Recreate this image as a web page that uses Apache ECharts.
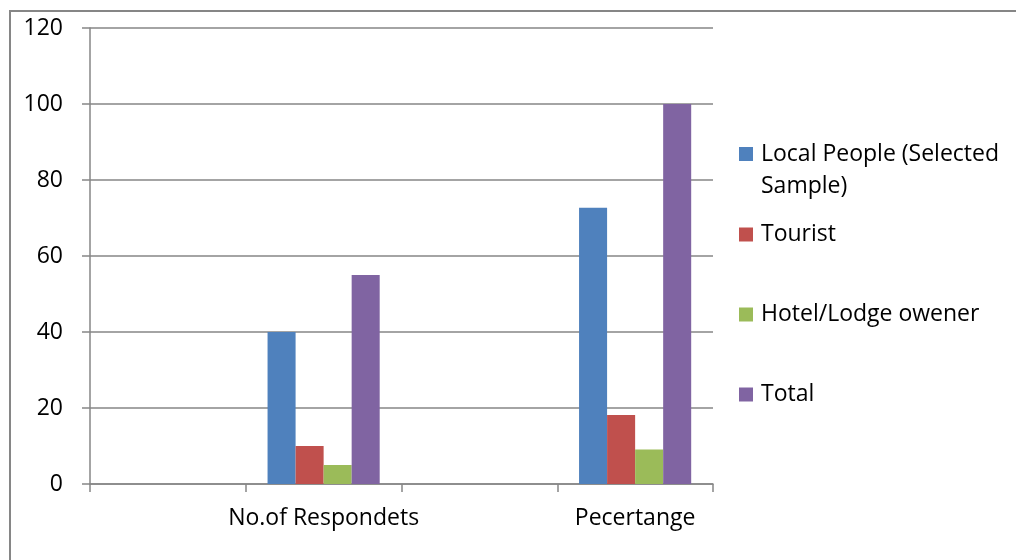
<!DOCTYPE html>
<html>
<head>
<meta charset="utf-8">
<script src="https://cdn.jsdelivr.net/npm/echarts@6/dist/echarts.min.js"></script>
<style>
  html, body { margin: 0; padding: 0; background: #fff; }
  #chart { width: 1016px; height: 560px; }
</style>
</head>
<body>
<div id="chart"></div>
<script>
// Categories (blank slots keep the Excel-style spacing between groups)
const categories = ['', 'No.of Respondets', '', 'Pecertange'];
const seriesNames = ['Local People (Selected Sample)', 'Tourist', 'Hotel/Lodge owener', 'Total'];
const localPeople = [null, 40, null, 72.73];
const tourist     = [null, 10, null, 18.18];
const hotelOwner  = [null, 5,  null, 9.09];
const total       = [null, 55, null, 100];
const yTicks = { min: 0, max: 120, interval: 20 };

const colors = ['#4F81BD', '#C0504D', '#9BBB59', '#8064A2'];
const values = [localPeople, tourist, hotelOwner, total];
const FONT = 'Open Sans';
const FS = 23;
const GRAY = '#868686';

// One legend per entry so the wrapped first label keeps its icon on line one
// (a leading blank line centres "Local People" on the icon).
const legendTops = [106, 223, 303, 383];
const legends = seriesNames.map((name, i) => {
  const wrapped = i === 0;
  const lh = wrapped ? 32 : 14;
  return {
    data: [name],
    orient: 'vertical',
    left: 739,
    top: legendTops[i],
    padding: 0,
    icon: 'rect',
    itemWidth: 14,
    itemHeight: 14,
    itemGap: 0,
    selectedMode: false,
    formatter: wrapped ? '{t|}\n{t|Local People (Selected}\n{t|Sample)}' : '{t|' + name + '}',
    textStyle: {
      fontFamily: FONT,
      fontSize: FS,
      color: '#000',
      lineHeight: lh,
      rich: {
        t: { fontFamily: FONT, fontSize: FS, color: '#000', lineHeight: lh, padding: [0, 0, 0, 3] }
      }
    }
  };
});

const chart = echarts.init(document.getElementById('chart'), null, { renderer: 'canvas' });
chart.setOption({
  animation: false,
  backgroundColor: '#fff',
  color: colors,
  textStyle: { fontFamily: FONT },
  graphic: [{
    type: 'rect',
    shape: { x: 10, y: 11, width: 1100, height: 700 },
    style: { fill: 'none', stroke: GRAY, lineWidth: 2 },
    silent: true,
    z: -1
  }],
  grid: { left: 90, right: 303, top: 28, bottom: 76, containLabel: false },
  legend: legends,
  xAxis: {
    type: 'category',
    data: categories,
    axisLine: { show: true, lineStyle: { color: GRAY, width: 1.5 } },
    axisTick: { show: true, length: 8, interval: 0, lineStyle: { color: GRAY, width: 1.5 } },
    axisLabel: { interval: 0, margin: 23, color: '#000', fontSize: FS, fontFamily: FONT },
    splitLine: { show: false }
  },
  yAxis: {
    type: 'value',
    min: yTicks.min,
    max: yTicks.max,
    interval: yTicks.interval,
    axisLine: { show: true, lineStyle: { color: GRAY, width: 1.5 } },
    axisTick: { show: true, length: 8, lineStyle: { color: GRAY, width: 1.5 } },
    axisLabel: { margin: 27, color: '#000', fontSize: FS, fontFamily: FONT },
    splitLine: { show: true, lineStyle: { color: GRAY, width: 1.5 } }
  },
  series: seriesNames.map((name, i) => ({
    name: name,
    type: 'bar',
    data: values[i],
    barGap: '0%',
    barCategoryGap: '28%',
    itemStyle: { color: colors[i] }
  }))
});
</script>
</body>
</html>
